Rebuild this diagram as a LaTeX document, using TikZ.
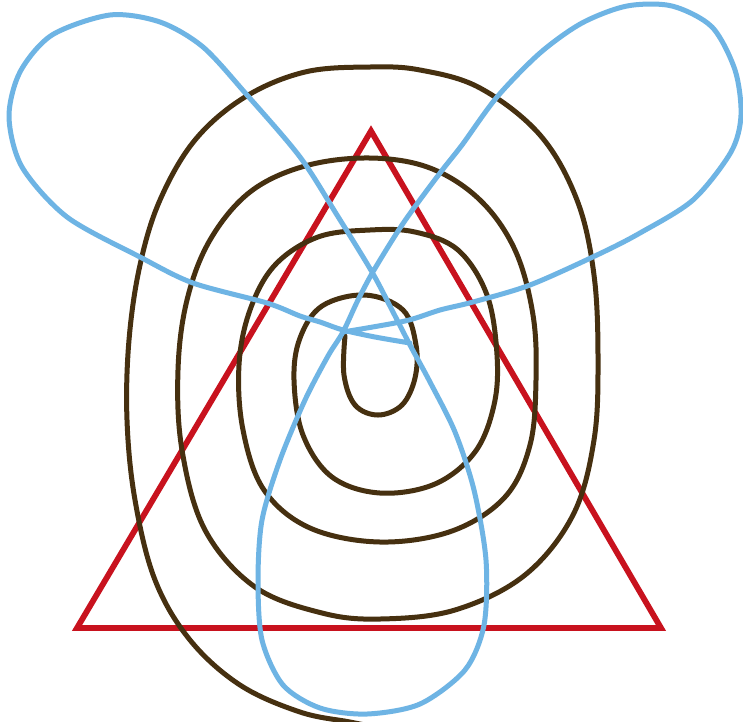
\documentclass[tikz,border=0pt]{standalone}
\definecolor{tri}{RGB}{200,18,30}
\definecolor{spi}{RGB}{70,48,16}
\definecolor{tre}{RGB}{110,180,228}
\tikzset{
  trianglestyle/.style={draw=tri,line width=5.8pt,line join=miter},
  spiralstyle/.style={draw=spi,line width=5pt,line cap=round},
  trefoilstyle/.style={draw=tre,line width=5pt,line cap=round,line join=round}
}
\begin{document}
\begin{tikzpicture}[x=1pt,y=-1pt]
\useasboundingbox (0,0) rectangle (743,721);
\fill[white] (0,0) rectangle (743,721);
\clip (0,0) rectangle (743,721);
% triangle
\coordinate (apex) at (371,131);
\coordinate (bl) at (77,628);
\coordinate (br) at (661,628);
\draw[trianglestyle] (apex) -- (bl) -- (br) -- cycle;
% spiral
\draw[spiralstyle] plot[smooth,tension=0.6] coordinates {
(345,336) (344,375) (355,405) (378,415) (402,405) (415,378) (416,345)
(403,310) (365,295) (322,306) (300,338) (294,380) (303,435) (332,477)
(380,493) (435,484) (475,452) (494,405) (497,355) (487,295) (458,250)
(415,232) (370,230) (318,237) (275,265) (250,310) (239,365) (243,430)
(264,490) (310,528) (380,542) (452,531) (505,497) (530,445) (536,380)
(533,315) (515,250) (480,200) (430,168) (370,158) (305,166) (250,192)
(210,240) (187,300) (178,370) (182,450) (205,530) (255,587) (322,613)
(380,619) (455,610) (525,575) (573,515) (594,440) (598,360) (594,275)
(577,200) (540,135) (480,88) (420,70) (370,67) (305,72) (245,97)
(195,140) (160,200) (140,265) (129,340) (127,420) (135,500) (155,580)
(190,640) (240,685) (300,712) (350,722) (380,728)};
% trefoil
\draw[trefoilstyle] plot[smooth,tension=0.5] coordinates {
(410,343) (375,337) (343,330) (320,322) (300,316) (267,303) (193,283)
(140,257) (67,217) (22,167) (9,117) (20,72) (52,35) (110,15) (160,22)
(203,47) (247,95) (300,157) (337,215) (372,272) (393,312) (410,345)
(430,382) (455,432) (474,490) (486,560) (484,625) (465,670) (420,704)
(367,714) (320,708) (283,685) (262,640) (258,580) (262,520) (280,460)
(305,400) (328,356) (343,332) (358,300) (374,270) (404,222) (440,173)
(462,145) (497,97) (540,53) (582,23) (627,6) (672,6) (712,27) (735,70)
(741,115) (731,152) (693,200) (640,233) (597,255) (530,285) (473,302)
(440,310) (405,321) (343,332)};
\end{tikzpicture}
\end{document}
